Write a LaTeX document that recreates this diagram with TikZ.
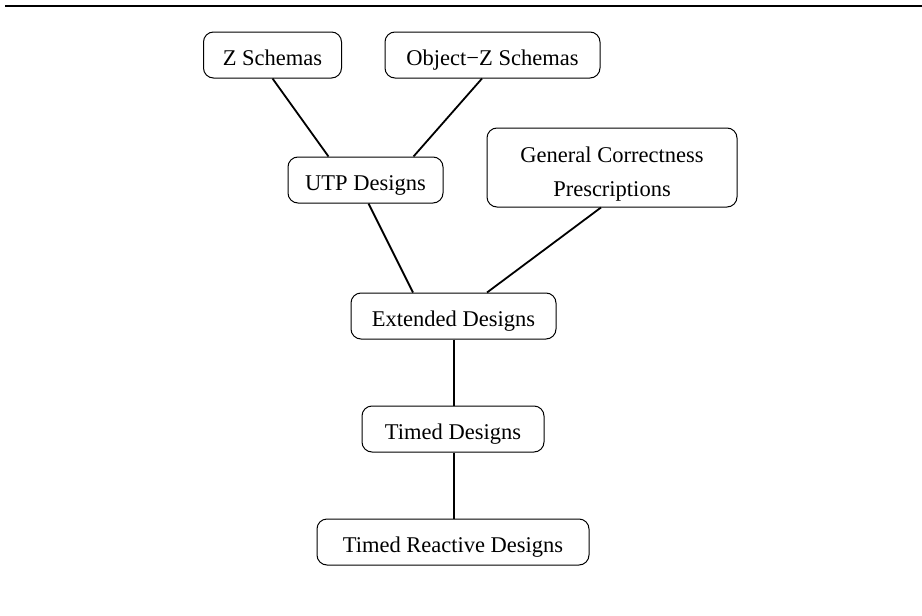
\documentclass[tikz,border=0pt]{standalone}
\usepackage{fontspec}
\setmainfont{Liberation Serif}
\usetikzlibrary{calc}
\begin{document}
\begin{tikzpicture}[x=1pt,y=-1pt,
  box/.style={draw, line width=1pt, rounded corners=10pt, inner sep=0pt, align=center,
    font=\fontsize{22.5}{27}\selectfont, minimum height=46pt, text height=21.6pt, text depth=0pt},
  link/.style={line width=1.8pt}]
\useasboundingbox (0,0) rectangle (922,616);
\fill[white] (0,0) rectangle (922,616);
\coordinate (rl) at (5,6);
\coordinate (rr) at (922,6);
\draw[line width=2pt] (rl) -- (rr);
\node[box, minimum width=138pt] (z) at (272.5,55) {Z Schemas};
\node[box, minimum width=215pt] (oz) at (492.5,55) {Object−Z Schemas};
\node[box, minimum width=155pt] (utp) at (365.5,180) {UTP Designs};
\node[box, minimum width=250pt, minimum height=79pt, font=\fontsize{22.5}{34}\selectfont,
      text height=58.6pt, text depth=0pt] (gc) at (612,167.5) {General Correctness\\Prescriptions};
\node[box, minimum width=205pt] (ext) at (453.5,316) {Extended Designs};
\node[box, minimum width=182pt] (td) at (453,429) {Timed Designs};
\node[box, minimum width=272pt] (trd) at (453,542) {Timed Reactive Designs};
\draw[link] (z.south) -- ($(utp.north)+(-37,0)$);
\draw[link] ($(oz.south)+(-10.5,0)$) -- ($(utp.north)+(48,0)$);
\draw[link] ($(utp.south)+(3,0)$) -- ($(ext.north)+(-40.5,0)$);
\draw[link] ($(gc.south)+(-11,0)$) -- ($(ext.north)+(33.5,0)$);
\draw[link] ($(ext.south)+(0.5,0)$) -- ($(td.north)+(1,0)$);
\draw[link] ($(td.south)+(1,0)$) -- ($(trd.north)+(1,0)$);
\end{tikzpicture}
\end{document}
